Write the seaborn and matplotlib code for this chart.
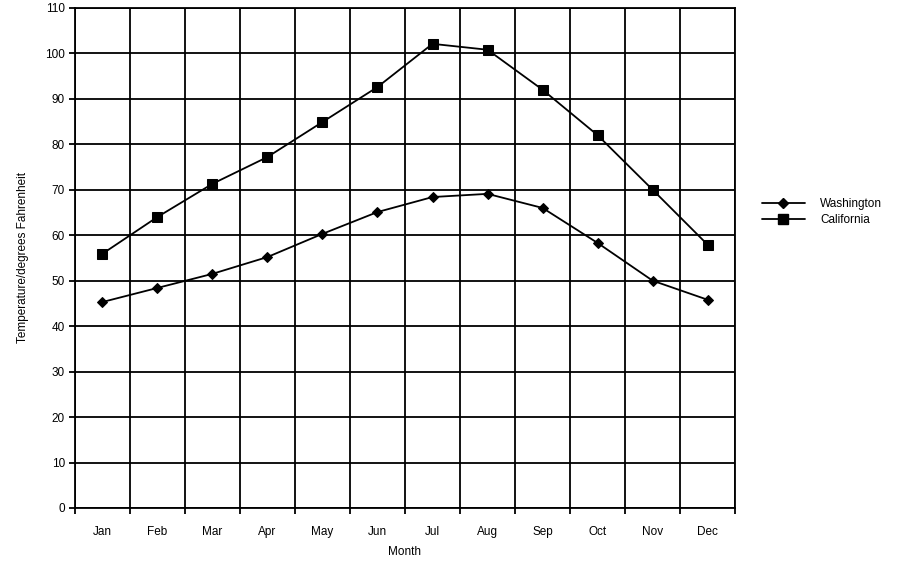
import numpy as np
import pandas as pd
import matplotlib
matplotlib.use('Agg')
import matplotlib.pyplot as plt
import seaborn as sns
from matplotlib.lines import Line2D

months = ['Jan', 'Feb', 'Mar', 'Apr', 'May', 'Jun', 'Jul', 'Aug', 'Sep', 'Oct', 'Nov', 'Dec']
washington = [45.3, 48.4, 51.5, 55.2, 60.3, 65.1, 68.4, 69.1, 66.0, 58.3, 50.0, 45.8]
california = [55.9, 64.0, 71.3, 77.2, 84.9, 92.6, 102.1, 100.8, 92.0, 82.0, 70.0, 57.9]
yticks = list(range(0, 111, 10))

sns.set_style('white')
plt.rcParams['font.family'] = ['Liberation Sans', 'DejaVu Sans']
plt.rcParams['text.color'] = 'black'
plt.rcParams['axes.labelcolor'] = 'black'
plt.rcParams['xtick.color'] = 'black'
plt.rcParams['ytick.color'] = 'black'

df = pd.DataFrame({
    'Month': months * 2,
    'pos': list(range(12)) * 2,
    'Temperature': washington + california,
    'State': ['Washington'] * 12 + ['California'] * 12,
})

fig = plt.figure(figsize=(9.01, 5.66), dpi=100)
ax = fig.add_axes([0.083, 0.1025, 0.733, 0.8835])

# grid first so lines sit under the data
for y in yticks:
    ax.axhline(y, color='black', lw=1.3, zorder=1)
for b in np.arange(-0.5, 12, 1):
    ax.axvline(b, color='black', lw=1.3, zorder=1)

sns.lineplot(data=df, x='pos', y='Temperature', hue='State', style='State',
             palette={'Washington': 'black', 'California': 'black'},
             markers={'Washington': 'D', 'California': 's'},
             dashes=False, ax=ax, lw=1.3, zorder=3, legend=False)
for line, ms in zip(ax.get_lines()[-2:], [5, 7.5]):
    line.set_markersize(ms)
    line.set_markeredgecolor('black')

ax.set_xlim(-0.5, 11.5)
ax.set_ylim(0, 110)
ax.set_xticks(range(12))
ax.set_xticklabels(months)
ax.set_xticks(np.arange(-0.5, 12, 1), minor=True)
ax.tick_params(axis='x', which='major', bottom=True, length=0, labelsize=8.5, pad=13)
ax.tick_params(axis='x', which='minor', bottom=True, length=4, width=1.3, direction='out')
ax.set_yticks(yticks)
ax.tick_params(axis='y', left=True, length=4, width=1.3, direction='out', labelsize=8.5, pad=3)
for s in ax.spines.values():
    s.set_color('black')
    s.set_linewidth(1.3)

ax.set_xlabel('Month', fontsize=8.5, labelpad=6)
ax.set_ylabel('Temperature/degrees Fahrenheit', fontsize=8.5, labelpad=12)

handles = [
    Line2D([], [], color='black', lw=1.3, marker='D', markersize=5),
    Line2D([], [], color='black', lw=1.3, marker='s', markersize=7.5),
]
fig.legend(handles, ['Washington', 'California'], loc='center left',
           bbox_to_anchor=(0.834, 0.625), frameon=False, fontsize=8.5,
           handlelength=3.6, handletextpad=1.3, labelspacing=0.35)

fig.savefig('out.png', dpi=100)
